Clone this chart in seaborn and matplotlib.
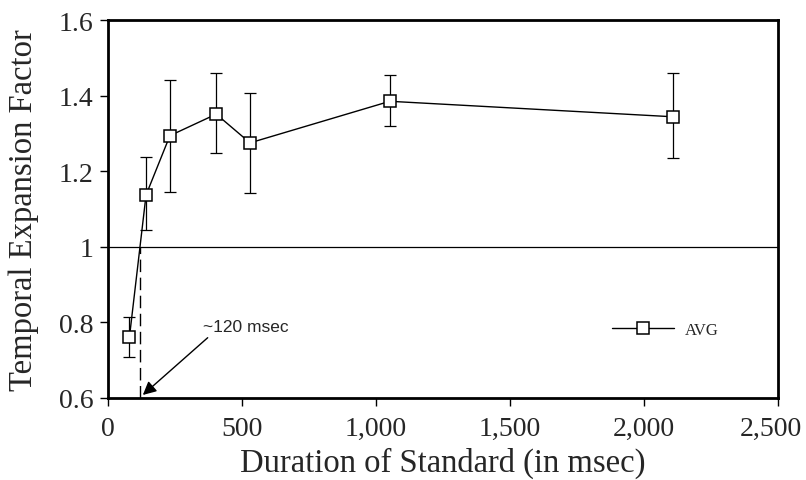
import matplotlib
matplotlib.use("Agg")
import matplotlib.pyplot as plt
import matplotlib.ticker as mticker
import matplotlib.transforms as mtrans
import seaborn as sns
import pandas as pd

durations = [80, 142, 231, 404, 530, 1052, 2109]
factors = [0.761, 1.137, 1.294, 1.351, 1.275, 1.385, 1.344]
err_upper = [0.814, 1.238, 1.442, 1.459, 1.406, 1.454, 1.459]
err_lower = [0.708, 1.044, 1.146, 1.249, 1.142, 1.320, 1.234]
x_ticks = [0, 500, 1000, 1500, 2000, 2500]
y_ticks = [0.6, 0.8, 1.0, 1.2, 1.4, 1.6]
crossover = 120

sns.set_theme(style="ticks")
plt.rcParams['font.family'] = ['Liberation Serif', 'DejaVu Serif']

df = pd.DataFrame({"Duration": durations, "Factor": factors, "Series": "AVG"})

fig = plt.figure(figsize=(8.06, 4.81), dpi=100)
ax = fig.add_axes([0.134, 0.1705, 0.831, 0.7858])

ax.axhline(1.0, color="black", lw=0.9, zorder=1)
ax.plot([crossover, crossover], [0.6, 1.0], color="black", lw=1.0, ls=(0, (9, 4)), zorder=1)

yerr = [[f - lo for f, lo in zip(factors, err_lower)], [hi - f for f, hi in zip(factors, err_upper)]]
ax.errorbar(durations, factors, yerr=yerr, fmt="none", ecolor="black", elinewidth=0.9,
            capsize=4, capthick=0.9, zorder=2)

sns.lineplot(data=df, x="Duration", y="Factor", hue="Series", palette=["black"], marker="s",
             markersize=9, markerfacecolor="white", markeredgecolor="black", markeredgewidth=1.1,
             linewidth=1.0, ax=ax, zorder=3, legend=True)

ax.annotate("~120 msec", xy=(130, 0.608), xytext=(354, 0.788), fontsize=12.5,
            family=["Liberation Sans", "DejaVu Sans"], va="center", ha="left",
            arrowprops=dict(arrowstyle="-|>", color="black", lw=1.0, mutation_scale=20,
                            shrinkA=0, shrinkB=0, relpos=(0.1, 0.0)))

ax.set_xlim(0, 2500)
ax.set_ylim(0.6, 1.6)
ax.set_xticks(x_ticks)
ax.set_yticks(y_ticks)
ax.xaxis.set_major_formatter(mticker.FuncFormatter(lambda v, p: f"{int(v):,}"))
ax.yaxis.set_major_formatter(mticker.FuncFormatter(lambda v, p: f"{v:g}"))
ax.tick_params(axis="both", labelsize=20, direction="out", length=6, width=1, color="black")
ax.tick_params(axis="x", pad=7)
ax.tick_params(axis="y", pad=4.5)
ax.set_xlabel("Duration of Standard (in msec)", fontsize=23.5, labelpad=4)
ax.set_ylabel("Temporal Expansion Factor", fontsize=23.5, labelpad=14)
for s in ax.spines.values():
    s.set_visible(True)
    s.set_linewidth(2.0)
    s.set_color("black")

last = ax.xaxis.get_major_ticks()[-1].label1
last.set_transform(last.get_transform() + mtrans.ScaledTranslation(-0.07, 0, fig.dpi_scale_trans))

h, l = ax.get_legend_handles_labels()
leg = ax.legend(h, l, loc="center left", bbox_to_anchor=(0.73, 0.18), frameon=False,
                fontsize=12, handlelength=3.7, handletextpad=0.7)

fig.savefig("out.png", dpi=100)
